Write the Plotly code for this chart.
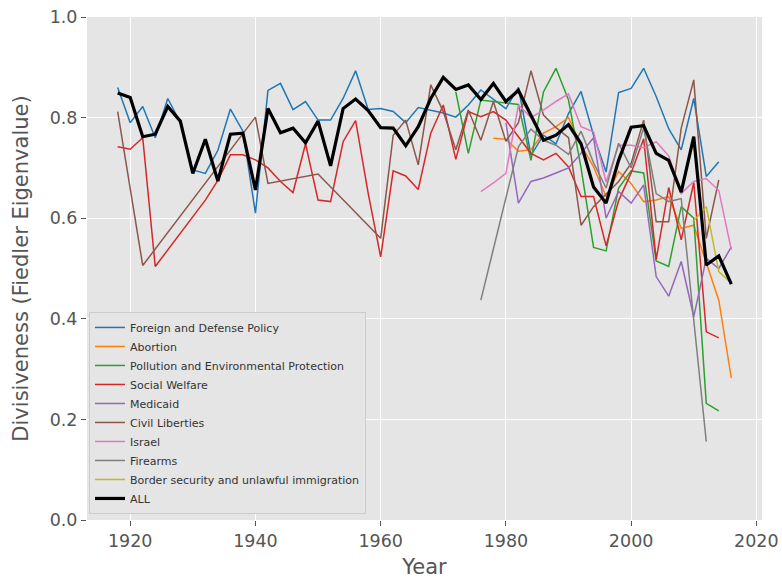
import plotly.graph_objects as go

# ---- data ----
years_all = list(range(1918, 2017, 2))
all_vals = [0.849, 0.840, 0.762, 0.767, 0.822, 0.793, 0.689, 0.757, 0.674, 0.767,
            0.769, 0.656, 0.818, 0.770, 0.779, 0.750, 0.793, 0.704, 0.818, 0.837,
            0.814, 0.780, 0.779, 0.744, 0.782, 0.838, 0.880, 0.856, 0.865, 0.836,
            0.868, 0.832, 0.854, 0.805, 0.755, 0.765, 0.786, 0.748, 0.662, 0.630,
            0.715, 0.781, 0.784, 0.729, 0.715, 0.652, 0.762, 0.507, 0.525, 0.469]

years_foreign = list(range(1918, 2015, 2))
foreign = [0.860, 0.790, 0.822, 0.760, 0.838, 0.790, 0.696, 0.689, 0.735, 0.817,
           0.773, 0.610, 0.854, 0.868, 0.816, 0.832, 0.795, 0.795, 0.838, 0.893,
           0.816, 0.818, 0.812, 0.790, 0.820, 0.815, 0.809, 0.801, 0.825, 0.855,
           0.836, 0.818, 0.860, 0.725, 0.765, 0.748, 0.808, 0.852, 0.765, 0.692,
           0.850, 0.858, 0.898, 0.842, 0.778, 0.736, 0.838, 0.683, 0.712]

years_abortion = list(range(1978, 2017, 2))
abortion = [0.759, 0.757, 0.733, 0.736, 0.769, 0.782, 0.800, 0.746, 0.702, 0.643,
            0.693, 0.669, 0.633, 0.636, 0.643, 0.580, 0.586, 0.510, 0.437, 0.282]

years_pollution = list(range(1972, 2015, 2))
pollution = [0.851, 0.729, 0.835, 0.832, 0.828, 0.826, 0.715, 0.851, 0.898, 0.835,
             0.700, 0.542, 0.535, 0.660, 0.694, 0.690, 0.515, 0.504, 0.623, 0.600,
             0.232, 0.217]

years_welfare = [1918, 1920, 1922, 1924, 1932, 1934] + list(range(1936, 2015, 2))
welfare = [0.742, 0.737, 0.760, 0.504, 0.636, 0.675, 0.726, 0.726, 0.716, 0.700,
           0.673, 0.651, 0.748, 0.636, 0.633, 0.752, 0.794, 0.650, 0.523, 0.694,
           0.684, 0.657, 0.769, 0.825, 0.717, 0.812, 0.802, 0.812, 0.795, 0.762,
           0.729, 0.716, 0.729, 0.702, 0.643, 0.643, 0.545, 0.635, 0.690, 0.758,
           0.518, 0.661, 0.557, 0.671, 0.374, 0.362]

years_medicaid = list(range(1980, 2017, 2))
medicaid = [0.790, 0.630, 0.673, 0.680, 0.690, 0.700, 0.729, 0.760, 0.600, 0.653,
            0.630, 0.666, 0.484, 0.445, 0.514, 0.404, 0.520, 0.500, 0.543]

years_civil = [1918, 1922, 1940, 1942, 1950, 1960] + list(range(1962, 2015, 2))
civil = [0.812, 0.506, 0.801, 0.669, 0.688, 0.560, 0.765, 0.795, 0.706, 0.865,
         0.812, 0.736, 0.815, 0.755, 0.832, 0.753, 0.790, 0.893, 0.805, 0.780,
         0.760, 0.586, 0.623, 0.649, 0.673, 0.709, 0.795, 0.593, 0.593, 0.779,
         0.875, 0.560, 0.676]

years_israel = list(range(1976, 2017, 2))
israel = [0.653, 0.670, 0.689, 0.825, 0.800, 0.815, 0.832, 0.847, 0.782, 0.772,
          0.672, 0.745, 0.745, 0.740, 0.752, 0.724, 0.649, 0.673, 0.679, 0.655,
          0.537]

years_firearms = [1976, 1982, 1984, 1986, 1988, 1990, 1992, 1994, 1996, 1998,
                  2000, 2002, 2004, 2006, 2008, 2012]
firearms = [0.437, 0.742, 0.777, 0.755, 0.745, 0.727, 0.773, 0.710, 0.660, 0.749,
            0.700, 0.780, 0.649, 0.633, 0.639, 0.156]

years_border = [2010, 2012, 2014, 2016]
border = [0.595, 0.623, 0.494, 0.471]

series = [
    ("Foreign and Defense Policy", years_foreign, foreign, "#1f77b4", 1.5),
    ("Abortion", years_abortion, abortion, "#ff7f0e", 1.5),
    ("Pollution and Environmental Protection", years_pollution, pollution, "#2ca02c", 1.5),
    ("Social Welfare", years_welfare, welfare, "#d62728", 1.5),
    ("Medicaid", years_medicaid, medicaid, "#9467bd", 1.5),
    ("Civil Liberties", years_civil, civil, "#8c564b", 1.5),
    ("Israel", years_israel, israel, "#e377c2", 1.5),
    ("Firearms", years_firearms, firearms, "#7f7f7f", 1.5),
    ("Border security and unlawful immigration", years_border, border, "#bcbd22", 1.5),
    ("ALL", years_all, all_vals, "#000000", 3.2),
]

x_ticks = [1920, 1940, 1960, 1980, 2000, 2020]
y_ticks = [0.0, 0.2, 0.4, 0.6, 0.8, 1.0]

fig = go.Figure()
for name, xs, ys, color, w in series:
    fig.add_trace(go.Scatter(x=xs, y=ys, mode="lines", name=name,
                             line=dict(color=color, width=w)))

FONT = "DejaVu Sans"
fig.update_layout(
    width=782, height=579,
    margin=dict(l=87, r=20, t=17, b=59, autoexpand=False),
    paper_bgcolor="white",
    plot_bgcolor="#E5E5E5",
    font=dict(family=FONT, color="#555555"),
    showlegend=True,
    legend=dict(x=0.003, y=0.012, xanchor="left", yanchor="bottom",
                bgcolor="#E5E5E5", bordercolor="#CCCCCC", borderwidth=1,
                font=dict(family=FONT, size=11, color="#333333"),
                itemwidth=30, tracegroupgap=0),
)
fig.update_xaxes(
    range=[1913.1, 2020.9], tickvals=x_ticks, ticktext=[str(v) for v in x_ticks],
    showgrid=True, gridcolor="white", gridwidth=1, zeroline=False,
    ticks="outside", ticklen=5, tickcolor="#555555",
    tickfont=dict(size=17.5, color="#555555"),
    title=dict(text="Year", font=dict(size=21, color="#555555")),
    showline=False, automargin=False,
)
fig.update_yaxes(
    range=[0, 1], tickvals=y_ticks, ticktext=["%.1f" % v for v in y_ticks],
    showgrid=True, gridcolor="white", gridwidth=1, zeroline=False,
    ticks="outside", ticklen=5, tickcolor="#555555",
    tickfont=dict(size=17.5, color="#555555"),
    title=dict(text="Divisiveness (Fiedler Eigenvalue)", font=dict(size=21, color="#555555")),
    showline=False, automargin=False,
)
fig.write_html("out.html")
